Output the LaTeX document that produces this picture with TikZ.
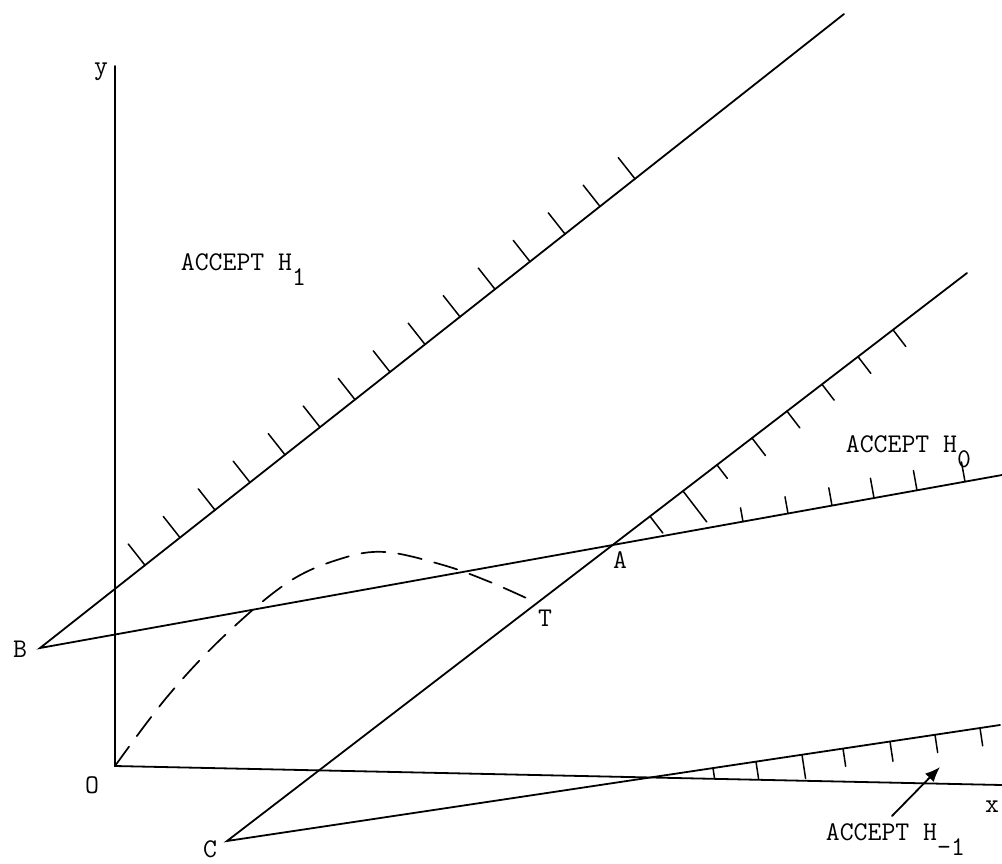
\documentclass[tikz,border=0pt]{standalone}
\usetikzlibrary{calc,arrows.meta}
\begin{document}
\begin{tikzpicture}[x=1pt,y=-1pt,line width=1.8pt,line cap=round,
  lbl/.style={font=\fontsize{27}{30}\selectfont\ttfamily,inner sep=0pt},
  hatch/.style={line width=1.5pt},
  dcurve/.style={line width=1.7pt,dash pattern=on 24pt off 13pt}]
\useasboundingbox (0,0) rectangle (1002,863);
% key points
\coordinate (B) at (40,648);
\coordinate (U) at (844,14);
\coordinate (O) at (115,766);
\coordinate (Y) at (115,66);
\coordinate (X) at (1002,785);
\coordinate (C) at (227,841);
\coordinate (M) at (967,273);
\coordinate (BE) at (1002,475);
\coordinate (LE) at (1000,725);
\coordinate (A) at (intersection of B--BE and C--M);
\coordinate (T) at ($(C)!0.419!(M)$);
\coordinate (ar1) at (892,816);
\coordinate (ar2) at (940,767);
% axes
\draw (Y) -- (O) -- (X);
% boundary lines
\draw (U) -- (B) -- (BE);
\draw (M) -- (C) -- (LE);
% hatches on upper line
\foreach \k in {0,...,14}{
  \pgfmathsetmacro\t{(105+35*\k)/804}
  \draw[hatch] ($(B)!\t!(U)$) -- ($($(B)!\t!(U)$)!27pt!90:(U)$);
}
% hatches on middle line (right of A)
\foreach \xx/\len in {650/21,683/39,717/17,752/22,787/21,822/20,858/21,893/21}{
  \pgfmathsetmacro\t{(\xx-227)/740}
  \draw[hatch] ($(C)!\t!(M)$) -- ($($(C)!\t!(M)$)!\len pt!-90:(M)$);
}
% hatches on B line (right of A)
\foreach \xx/\len in {743/14,788/17,832/18,874/20,917/20,965/20}{
  \pgfmathsetmacro\t{(\xx-40)/962}
  \draw[hatch] ($(B)!\t!(BE)$) -- ($($(B)!\t!(BE)$)!\len pt!90:(BE)$);
}
% hatches on lower line
\foreach \xx/\len in {713/10,756/17,802/24,843/18,890/20,935/18,980/18}{
  \pgfmathsetmacro\t{(\xx-227)/773}
  \draw[hatch] ($(C)!\t!(LE)$) -- ($($(C)!\t!(LE)$)!\len pt!-90:(LE)$);
}
% dashed trajectory
\draw[dcurve] plot[smooth,tension=0.6] coordinates {(O) (167,697) (223,637) (287,583) (340,559) (385,552) (443,565) (490,582) (T)};
% arrow
\draw[line width=1.8pt,-{Latex[length=15pt,width=12pt]}] (ar1) -- (ar2);
% labels
\node[lbl,anchor=base west] (h1) at (180,270) {ACCEPT H\raisebox{-15pt}{1}};
\node[lbl,anchor=base west] (h0) at (845,452) {ACCEPT H\raisebox{-15pt}{0}};
\node[lbl,anchor=base west] (hm1) at (825,840) {ACCEPT H\raisebox{-15pt}{-1}};
\node[lbl] (ly) at (101,72) {y};
\node[lbl] (lB) at (20,649) {B};
\node[lbl] (lO) at (92,785) {O};
\node[lbl] (lC) at (210,849) {C};
\node[lbl] (lA) at (620,560) {A};
\node[lbl] (lT) at (545,618) {T};
\node[lbl] (lx) at (992,807) {x};
\end{tikzpicture}
\end{document}
